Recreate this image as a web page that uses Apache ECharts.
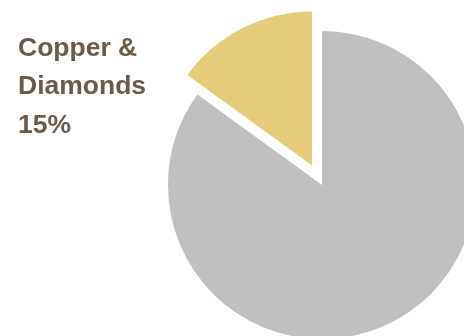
<!DOCTYPE html>
<html>
<head>
<meta charset="utf-8">
<script src="https://cdn.jsdelivr.net/npm/echarts@6/dist/echarts.min.js"></script>
<style>
    html, body { margin: 0; padding: 0; background: #fff; }
    #main { width: 464px; height: 336px; }
</style>
</head>
<body>
<div id="main"></div>
<script>
// 数据
var categories = ['Other', 'Copper &\nDiamonds'];
var values = [85, 15];
var colors = ['#BFBFBF', '#E6CC7A'];

var myChart = echarts.init(document.getElementById('main'));

var pieData = categories.map(function (name, i) {
    return {
        name: name,
        value: values[i],
        selected: i === 1,
        itemStyle: { color: colors[i] }
    };
});

var option = {
    animation: false,
    title: {
        text: categories[1] + '\n' + values[1] + '%',
        left: 13,
        top: 24,
        textStyle: {
            fontFamily: 'Liberation Sans, Arial',
            fontSize: 26.5,
            fontWeight: 'bold',
            color: '#6B5A4A',
            lineHeight: 38.5
        }
    },
    series: [{
        type: 'pie',
        center: [322, 185],
        radius: 154,
        startAngle: 90,
        clockwise: true,
        selectedMode: 'single',
        selectedOffset: 22,
        label: { show: false },
        labelLine: { show: false },
        emphasis: { disabled: true },
        data: pieData
    }]
};

myChart.setOption(option);
</script>
</body>
</html>
